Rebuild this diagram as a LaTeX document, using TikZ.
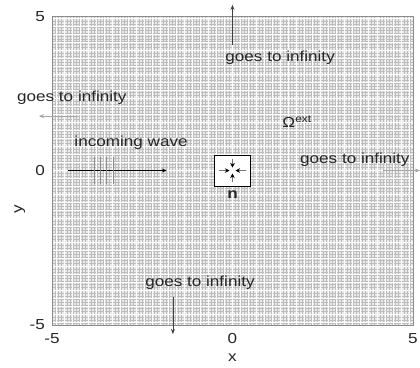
\documentclass[tikz,border=0pt]{standalone}
\usepackage{fontspec}
\setmainfont{Liberation Sans}[FakeStretch=1.18]
\usetikzlibrary{arrows.meta,positioning}
\definecolor{MeshGray}{HTML}{EAEAEA}
\definecolor{MeshLine}{HTML}{BDBDBD}
\definecolor{FrameGray}{HTML}{8C8C8C}
\tikzset{
    % text labels
    annot/.style={
        font=\fontsize{14.5}{17}\selectfont,
        inner sep=0pt,
        text=black!85
    },
    tick label/.style={
        annot
    },
    % arrows
    far arrow/.style={
        -{Stealth[length=5pt,width=4pt]},
        line width=0.6pt,
        color=black!75
    },
    faint arrow/.style={
        far arrow,
        color=black!35
    },
    wave arrow/.style={
        far arrow,
        line width=0.9pt,
        color=black
    },
    wave front/.style={
        line width=0.5pt,
        color=black!45
    },
    inner arrow/.style={
        -{Stealth[length=4.5pt,width=4.5pt,color=black]},
        line width=0.4pt,
        color=black!55
    },
    obstacle/.style={
        rectangle,
        draw=black,
        line width=1pt,
        fill=white,
        minimum width=36pt,
        minimum height=31pt,
        inner sep=0pt
    }
}

\begin{document}
\begin{tikzpicture}[x=36.1pt, y=30.9pt]
    \useasboundingbox (-6.44,-6.36) rectangle (5.194,5.518);

    % Mesh of the exterior domain
    \fill[MeshGray] (-5,-5) rectangle (5,5);
    \draw[MeshLine, line width=0.25pt, xstep=0.0833, ystep=0.097] (-5,-5) grid (5,5);
    \draw[white, line width=0.5pt, xstep=0.222, ystep=0.259] (-5,-5) grid (5,5);
    \draw[FrameGray, line width=0.6pt] (-5,-5) rectangle (5,5);

    % Axis ticks
    \node[tick label, anchor=east] (y5) at (-5.19,4.97) {5};
    \node[tick label, anchor=east] (y0) at (-5.19,0) {0};
    \node[tick label, anchor=east] (ym5) at (-5.19,-5) {-5};
    \node[tick label, anchor=north] (xm5) at (-5,-5.26) {-5};
    \node[tick label, anchor=north] (x0) at (0,-5.26) {0};
    \node[tick label, anchor=north] (x5) at (5,-5.26) {5};
    \node[tick label, anchor=south] (xlab) at (0,-6.2) {x};
    \node[tick label, rotate=90] (ylab) at (-5.89,-1.25) {y};

    % Scatterer
    \node[obstacle] (scat) at (0,0) {};
    \node[annot, font=\fontsize{14.5}{17}\selectfont\bfseries, below=4pt of scat] (normal) {n};
    \coordinate (mid) at (0,0);
    \coordinate (nt) at (0,0.38);
    \coordinate (nb) at (0,-0.38);
    \coordinate (nl) at (-0.38,0);
    \coordinate (nr) at (0.38,0);
    \draw[inner arrow] (nt) -- ([yshift=3pt]mid);
    \draw[inner arrow] (nb) -- ([yshift=-3pt]mid);
    \draw[inner arrow] (nl) -- ([xshift=-3pt]mid);
    \draw[inner arrow] (nr) -- ([xshift=3pt]mid);

    % Incoming wave
    \node[annot] (wave) at (-2.81,0.89) {incoming wave};
    \coordinate (w0) at (-4.56,0);
    \coordinate (w1) at (-1.82,0);
    \draw[wave arrow] (w0) -- (w1);
    \foreach \wx in {-3.84,-3.67,-3.5,-3.31}
        \draw[wave front] (\wx,0.44) -- (\wx,-0.44);

    % Exterior domain
    \node[annot] (omega) at (1.79,1.57) {Ω\textsuperscript{ext}};

    % Far field labels
    \node[annot] (inftop) at (1.32,3.64) {goes to infinity};
    \node[annot] (infleft) at (-4.45,2.35) {goes to infinity};
    \node[annot, anchor=west] (infright) at (1.87,0.34) {goes to infinity};
    \node[annot] (infbot) at (-0.9,-3.64) {goes to infinity};

    \coordinate (t0) at (0,4.06);
    \coordinate (t1) at (0,5.36);
    \coordinate (l0) at (-4.31,1.76);
    \coordinate (l1) at (-5.36,1.76);
    \coordinate (r0) at (4.17,0);
    \coordinate (r1) at (5.19,0);
    \coordinate (b0) at (-1.65,-4.09);
    \coordinate (b1) at (-1.65,-5.29);

    \draw[far arrow] (t0) -- (t1);
    \draw[faint arrow] (l0) -- (l1);
    \draw[faint arrow] (r0) -- (r1);
    \draw[far arrow] (b0) -- (b1);
\end{tikzpicture}
\end{document}
